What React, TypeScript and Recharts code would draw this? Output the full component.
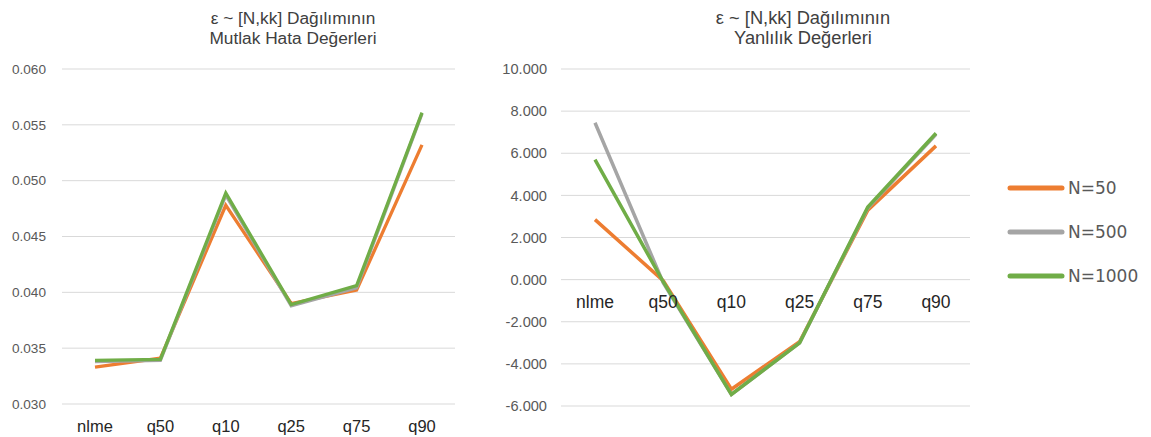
import React from "react";
import { LineChart, Line, XAxis, YAxis, CartesianGrid } from "recharts";

const categories = ["nlme", "q50", "q10", "q25", "q75", "q90"];

const mutlakN50 = [0.0333, 0.0341, 0.0478, 0.039, 0.0402, 0.0532];
const mutlakN500 = [0.0338, 0.0339, 0.0487, 0.0388, 0.0404, 0.056];
const mutlakN1000 = [0.0339, 0.034, 0.0489, 0.0389, 0.0406, 0.0561];

const yanlilikN50 = [2.85, -0.05, -5.2, -2.95, 3.3, 6.35];
const yanlilikN500 = [7.45, -0.15, -5.45, -3.0, 3.4, 6.9];
const yanlilikN1000 = [5.7, -0.1, -5.45, -3.0, 3.45, 6.95];

const mutlakTicks = [0.03, 0.035, 0.04, 0.045, 0.05, 0.055, 0.06];
const yanlilikTicks = [-6, -4, -2, 0, 2, 4, 6, 8, 10];

const SERIES = [
    { key: "n50", label: "N=50", color: "#ED7D31" },
    { key: "n500", label: "N=500", color: "#A5A5A5" },
    { key: "n1000", label: "N=1000", color: "#70AD47" },
];

const mutlakData = categories.map((c, i) => ({
    name: c,
    n50: mutlakN50[i],
    n500: mutlakN500[i],
    n1000: mutlakN1000[i],
}));

const yanlilikData = categories.map((c, i) => ({
    name: c,
    n50: yanlilikN50[i],
    n500: yanlilikN500[i],
    n1000: yanlilikN1000[i],
}));

const FONT = "'Liberation Sans', Arial, sans-serif";
const CHART_H = 437;
const TOP = 69;

// category label drawn `lift` px above the bottom of the plot
function CatTick(props: any) {
    const { x, y, payload, lift, size } = props;
    return (
        <text
            x={x}
            y={y + 28 - (lift || 0)}
            textAnchor="middle"
            fontFamily={FONT}
            fontSize={size}
            fill="#262626"
        >
            {payload.value}
        </text>
    );
}

function Title({ center, size, lines }: { center: number; size: number; lines: string[] }) {
    return (
        <div
            style={{
                position: "absolute",
                left: center - 150,
                top: 8,
                width: 300,
                textAlign: "center",
                fontFamily: FONT,
                fontSize: size,
                lineHeight: "20px",
                color: "#404040",
            }}
        >
            {lines.map((l) => (
                <div key={l}>{l}</div>
            ))}
        </div>
    );
}

export default function App() {
    // right chart: plot height and position of zero inside it
    const rightBottom = 31;
    const rightPlotH = CHART_H - TOP - rightBottom;
    const zeroLift = (rightPlotH * (0 - -6)) / (10 - -6);

    return (
        <div
            style={{
                position: "absolute",
                left: 0,
                top: 0,
                width: 1151,
                height: CHART_H,
                background: "#fff",
                overflow: "hidden",
            }}
        >
            <Title center={293} size={17.3} lines={["ε ~ [N,kk] Dağılımının", "Mutlak Hata Değerleri"]} />
            <Title center={803} size={18.3} lines={["ε ~ [N,kk] Dağılımının", "Yanlılık Değerleri"]} />

            <div style={{ position: "absolute", left: 0, top: 0 }}>
                <LineChart
                    width={480}
                    height={CHART_H}
                    data={mutlakData}
                    margin={{ top: TOP, right: 25, bottom: 0, left: 0 }}
                >
                    <CartesianGrid vertical={false} stroke="#D9D9D9" />
                    <XAxis
                        dataKey="name"
                        height={33}
                        axisLine={false}
                        tickLine={false}
                        tickSize={0}
                        tickMargin={0}
                        padding={{ left: 33, right: 33 }}
                        tick={<CatTick size={16.5} />}
                        interval={0}
                    />
                    <YAxis
                        width={62}
                        domain={[0.03, 0.06]}
                        ticks={mutlakTicks}
                        axisLine={false}
                        tickLine={false}
                        tickSize={0}
                        tickMargin={16}
                        tickFormatter={(v: number) => v.toFixed(3)}
                        tick={{ fill: "#595959", fontSize: 13.6, fontFamily: FONT }}
                    />
                    {SERIES.map((s) => (
                        <Line
                            key={s.key}
                            dataKey={s.key}
                            stroke={s.color}
                            strokeWidth={3.3}
                            dot={false}
                            isAnimationActive={false}
                        />
                    ))}
                </LineChart>
            </div>

            <div style={{ position: "absolute", left: 480, top: 0 }}>
                <LineChart
                    width={671}
                    height={CHART_H}
                    data={yanlilikData}
                    margin={{ top: TOP, right: 181, bottom: 0, left: 0 }}
                >
                    <CartesianGrid vertical={false} stroke="#D9D9D9" />
                    <XAxis
                        dataKey="name"
                        height={rightBottom}
                        axisLine={false}
                        tickLine={false}
                        tickSize={0}
                        tickMargin={0}
                        padding={{ left: 34, right: 34 }}
                        tick={<CatTick lift={zeroLift} size={17.5} />}
                        interval={0}
                    />
                    <YAxis
                        width={81}
                        domain={[-6, 10]}
                        ticks={yanlilikTicks}
                        axisLine={false}
                        tickLine={false}
                        tickSize={0}
                        tickMargin={14}
                        tickFormatter={(v: number) => v.toFixed(3)}
                        tick={{ fill: "#595959", fontSize: 14.6, fontFamily: FONT }}
                    />
                    {SERIES.map((s) => (
                        <Line
                            key={s.key}
                            dataKey={s.key}
                            stroke={s.color}
                            strokeWidth={3.5}
                            dot={false}
                            isAnimationActive={false}
                        />
                    ))}
                </LineChart>
            </div>

            <div style={{ position: "absolute", left: 1007, top: 166 }}>
                {SERIES.map((s) => (
                    <div
                        key={s.key}
                        style={{ display: "flex", alignItems: "center", height: 44 }}
                    >
                        <svg width={58} height={8}>
                            <line
                                x1={3}
                                y1={4}
                                x2={55}
                                y2={4}
                                stroke={s.color}
                                strokeWidth={5}
                                strokeLinecap="round"
                            />
                        </svg>
                        <span
                            style={{
                                fontFamily: "'DejaVu Sans', sans-serif",
                                fontSize: 17,
                                color: "#595959",
                                marginLeft: 3,
                            }}
                        >
                            {s.label}
                        </span>
                    </div>
                ))}
            </div>
        </div>
    );
}
